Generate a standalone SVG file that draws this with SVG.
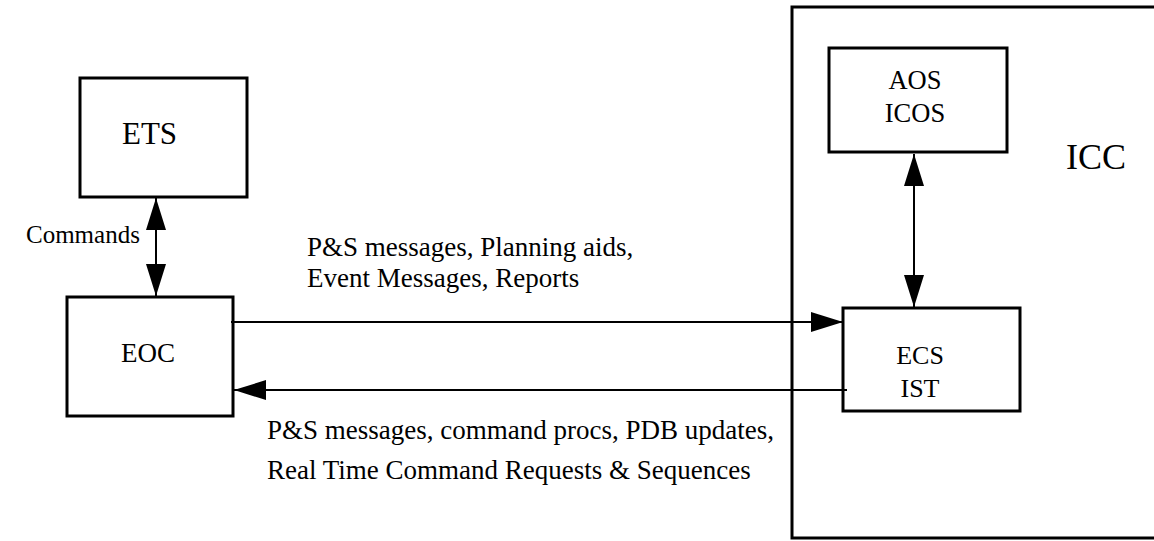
<svg xmlns="http://www.w3.org/2000/svg" width="1154" height="541" viewBox="0 0 1154 541">
<style>
.box{fill:#fff;stroke:#000;stroke-width:3}
.frame{fill:none;stroke:#000;stroke-width:3}
.con{fill:none;stroke:#000;stroke-width:2}
text{font-family:"Liberation Serif","Times New Roman",serif;fill:#000}
.lbl{font-size:27px}
</style>
<defs>
<marker id="ah" markerUnits="userSpaceOnUse" markerWidth="32" markerHeight="20" refX="32" refY="10" orient="auto-start-reverse">
<path d="M0,0 L32,10 L0,20 z" fill="#000"/>
</marker>
</defs>
<rect width="1154" height="541" fill="#fff"/>
<g id="ICC">
<rect class="frame" x="792" y="7" width="370" height="531"/>
<text x="1066" y="169" style="font-size:36px">ICC</text>
</g>
<g id="ETS">
<rect class="box" x="80" y="78" width="167" height="119"/>
<text x="122" y="144" style="font-size:31px">ETS</text>
</g>
<g id="EOC">
<rect class="box" x="67" y="297" width="166" height="119"/>
<text x="121" y="362" style="font-size:27px">EOC</text>
</g>
<g id="AOS">
<rect class="box" x="829" y="48" width="178" height="104"/>
<text x="915" y="89" text-anchor="middle" style="font-size:26.5px">AOS</text>
<text x="915" y="122" text-anchor="middle" style="font-size:26.5px">ICOS</text>
</g>
<g id="ECS">
<rect class="box" x="843" y="308" width="177" height="103"/>
<text x="920" y="364" text-anchor="middle" style="font-size:26px">ECS</text>
<text x="920" y="397" text-anchor="middle" style="font-size:26px">IST</text>
</g>
<g id="connectors">
<line class="con" x1="156" y1="198" x2="156" y2="296" marker-start="url(#ah)" marker-end="url(#ah)"/>
<line class="con" x1="914" y1="154" x2="914" y2="307" marker-start="url(#ah)" marker-end="url(#ah)"/>
<line class="con" x1="231" y1="322" x2="843" y2="322" marker-end="url(#ah)"/>
<line class="con" x1="847" y1="390" x2="234" y2="390" marker-end="url(#ah)"/>
<text x="26" y="243" style="font-size:25px">Commands</text>
<text class="lbl" x="307" y="256">P&amp;S messages, Planning aids,</text>
<text class="lbl" x="307" y="287">Event Messages, Reports</text>
<text class="lbl" x="267" y="439">P&amp;S messages, command procs, PDB updates,</text>
<text class="lbl" x="267" y="479">Real Time Command Requests &amp; Sequences</text>
</g>
</svg>
